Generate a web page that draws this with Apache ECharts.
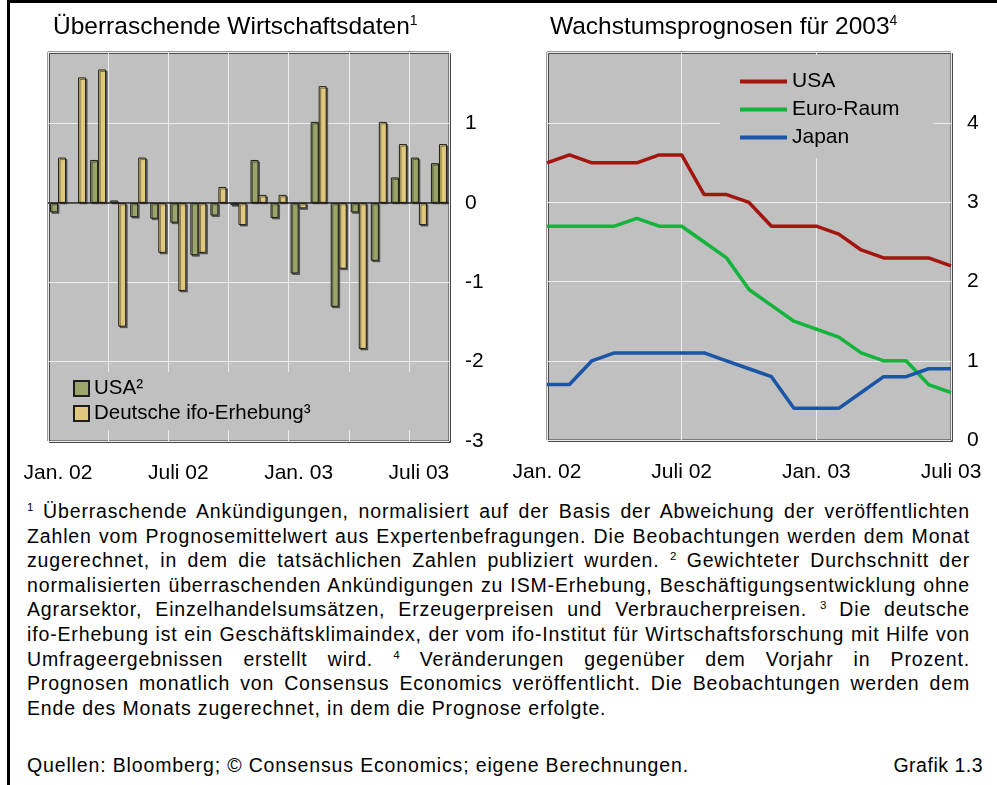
<!DOCTYPE html>
<html>
<head>
<meta charset="utf-8">
<script src="https://cdn.jsdelivr.net/npm/echarts@6/dist/echarts.min.js"></script>
<style>
  html, body { margin: 0; padding: 0; background: #fff; }
  #page { position: relative; width: 997px; height: 785px; overflow: hidden; font-family: 'Liberation Sans', Arial, sans-serif; color: #000; }
  #frame { position: absolute; left: 7px; top: 0; width: 990px; height: 785px; border-left: 3px solid #000; border-top: 3px solid #000; box-sizing: border-box; }
  #chart { position: absolute; left: 0; top: 0; width: 997px; height: 495px; }
  #notes { position: absolute; left: 27px; top: 499px; width: 943px; font-size: 19.5px; letter-spacing: 0.85px; line-height: 24.6px; }
  #notes div { text-align: justify; text-align-last: justify; white-space: nowrap; }
  #notes div.last { text-align: left; text-align-last: left; }
  .s { font-size: 11.5px; vertical-align: 7px; line-height: 0; letter-spacing: 0; }
  #source { position: absolute; left: 27px; top: 753px; width: 956px; font-size: 19.5px; letter-spacing: 0.85px; line-height: 24.6px; }
  #source span { position: absolute; right: 0; top: 0; letter-spacing: 0.5px; }
</style>
</head>
<body>
<div id="page">
  <div id="frame"></div>
  <div id="chart"></div>
  <div id="notes">
    <div><span class="s">1</span> Überraschende Ankündigungen, normalisiert auf der Basis der Abweichung der veröffentlichten</div>
    <div>Zahlen vom Prognosemittelwert aus Expertenbefragungen. Die Beobachtungen werden dem Monat</div>
    <div>zugerechnet, in dem die tatsächlichen Zahlen publiziert wurden. <span class="s">2</span> Gewichteter Durchschnitt der</div>
    <div>normalisierten überraschenden Ankündigungen zu ISM-Erhebung, Beschäftigungsentwicklung ohne</div>
    <div>Agrarsektor, Einzelhandelsumsätzen, Erzeugerpreisen und Verbraucherpreisen. <span class="s">3</span> Die deutsche</div>
    <div>ifo-Erhebung ist ein Geschäftsklimaindex, der vom ifo-Institut für Wirtschaftsforschung mit Hilfe von</div>
    <div>Umfrageergebnissen erstellt wird. <span class="s">4</span> Veränderungen gegenüber dem Vorjahr in Prozent.</div>
    <div>Prognosen monatlich von Consensus Economics veröffentlicht. Die Beobachtungen werden dem</div>
    <div class="last">Ende des Monats zugerechnet, in dem die Prognose erfolgte.</div>
  </div>
  <div id="source">Quellen: Bloomberg; © Consensus Economics; eigene Berechnungen.<span>Grafik 1.3</span></div>
</div>
<script>
// left panel: monthly surprise indicators, Jan 02 - Aug 03
const surpriseMonths = ['Jan. 02', 'Feb. 02', 'März 02', 'Apr. 02', 'Mai 02', 'Juni 02', 'Juli 02', 'Aug. 02', 'Sep. 02', 'Okt. 02', 'Nov. 02', 'Dez. 02',
  'Jan. 03', 'Feb. 03', 'März 03', 'Apr. 03', 'Mai 03', 'Juni 03', 'Juli 03', 'Aug. 03'];
const usaSurprise = [-0.12, null, 0.54, 0.03, -0.18, -0.2, -0.25, -0.66, -0.16, -0.03, 0.54, -0.19, -0.89, 1.02, -1.31, -0.12, -0.73, 0.32, 0.57, 0.5];
const ifoSurprise = [0.57, 1.58, 1.68, -1.56, 0.57, -0.63, -1.11, -0.63, 0.2, -0.28, 0.1, 0.1, -0.07, 1.47, -0.83, -1.84, 1.02, 0.74, -0.28, 0.74];

// right panel: growth forecasts for 2003, Jan 02 - Jul 03
const forecastMonths = ['Jan. 02', 'Feb. 02', 'März 02', 'Apr. 02', 'Mai 02', 'Juni 02', 'Juli 02', 'Aug. 02', 'Sep. 02', 'Okt. 02', 'Nov. 02', 'Dez. 02',
  'Jan. 03', 'Feb. 03', 'März 03', 'Apr. 03', 'Mai 03', 'Juni 03', 'Juli 03'];
const usaForecast = [3.5, 3.6, 3.5, 3.5, 3.5, 3.6, 3.6, 3.1, 3.1, 3.0, 2.7, 2.7, 2.7, 2.6, 2.4, 2.3, 2.3, 2.3, 2.2];
const euroForecast = [2.7, 2.7, 2.7, 2.7, 2.8, 2.7, 2.7, 2.5, 2.3, 1.9, 1.7, 1.5, 1.4, 1.3, 1.1, 1.0, 1.0, 0.7, 0.6];
const japanForecast = [0.7, 0.7, 1.0, 1.1, 1.1, 1.1, 1.1, 1.1, 1.0, 0.9, 0.8, 0.4, 0.4, 0.4, 0.6, 0.8, 0.8, 0.9, 0.9];

const FONT = 'Liberation Sans, Arial, sans-serif';
const PLOT_BG = '#c0c0c0';
const GRID_LINE = '#ececec';

const chart = echarts.init(document.getElementById('chart'), null, { renderer: 'canvas' });

const gridStyle = {
  show: true,
  backgroundColor: PLOT_BG,
  borderColor: '#3a3a3a',
  borderWidth: 1,
  shadowColor: 'rgba(0,0,0,0.6)',
  shadowOffsetX: 1.5,
  shadowOffsetY: 1.5,
  shadowBlur: 0
};

const barItem = (color) => ({
  color: color,
  borderColor: '#1e1e1e',
  borderWidth: 1,
  shadowColor: 'rgba(0,0,0,0.45)',
  shadowOffsetX: 1.5,
  shadowOffsetY: 1.5,
  shadowBlur: 0
});

const titleRich = {
  t: { fontSize: 24.5, fontWeight: 'normal', fontFamily: FONT, color: '#000', lineHeight: 26 },
  s: { fontSize: 14, fontWeight: 'normal', fontFamily: FONT, color: '#000', verticalAlign: 'top', lineHeight: 14 }
};

chart.setOption({
  animation: false,
  textStyle: { fontFamily: FONT },
  title: [
    { text: '{t|Überraschende Wirtschaftsdaten}{s|1}', left: 53, top: 14, padding: 0, textStyle: { fontWeight: 'normal', rich: titleRich } },
    { text: '{t|Wachstumsprognosen für 2003}{s|4}', left: 550, top: 14, padding: 0, textStyle: { fontWeight: 'normal', rich: titleRich } }
  ],
  legend: [
    {
      data: ['USA²', 'Deutsche ifo-Erhebung³'],
      orient: 'vertical',
      left: 50,
      top: 372,
      padding: [6, 127, 6, 23],
      backgroundColor: PLOT_BG,
      itemWidth: 15,
      itemHeight: 15,
      itemGap: 4,
      itemTextGap: 6,
      icon: 'rect',
      textStyle: { fontSize: 20.5, color: '#000', fontFamily: FONT }
    },
    {
      data: ['USA', 'Euro-Raum', 'Japan'],
      orient: 'vertical',
      left: 720,
      top: 55,
      padding: [16, 34, 10, 20],
      backgroundColor: PLOT_BG,
      itemWidth: 47,
      itemHeight: 4,
      itemGap: 7,
      itemTextGap: 8,
      icon: 'rect',
      textStyle: { fontSize: 21, color: '#000', fontFamily: FONT }
    }
  ],
  grid: [
    Object.assign({ left: 48, top: 52, width: 401, height: 389 }, gridStyle),
    Object.assign({ left: 547, top: 52, width: 404, height: 388 }, gridStyle)
  ],
  xAxis: [
    {
      type: 'category',
      gridIndex: 0,
      data: surpriseMonths,
      boundaryGap: true,
      axisLine: { show: false },
      axisTick: { show: false },
      axisLabel: { interval: 5, margin: 22, fontSize: 21, color: '#000' },
      splitLine: { show: true, interval: 2, lineStyle: { color: GRID_LINE, width: 1 } }
    },
    {
      type: 'category',
      gridIndex: 1,
      data: forecastMonths,
      boundaryGap: false,
      axisLine: { show: false },
      axisTick: { show: false },
      axisLabel: { interval: 5, margin: 22, fontSize: 21, color: '#000' },
      splitLine: { show: true, interval: 5, lineStyle: { color: GRID_LINE, width: 1 } }
    }
  ],
  yAxis: [
    {
      type: 'value',
      gridIndex: 0,
      position: 'right',
      min: -3,
      max: 1.9,
      interval: 1,
      axisLine: { show: false },
      axisTick: { show: false },
      axisLabel: { showMaxLabel: false, margin: 16, fontSize: 21, color: '#000', align: 'left' },
      splitLine: { lineStyle: { color: GRID_LINE, width: 1 } }
    },
    {
      type: 'value',
      gridIndex: 1,
      position: 'right',
      min: 0,
      max: 4.9,
      interval: 1,
      axisLine: { show: false },
      axisTick: { show: false },
      axisLabel: { showMaxLabel: false, margin: 16, fontSize: 21, color: '#000', align: 'left' },
      splitLine: { lineStyle: { color: GRID_LINE, width: 1 } }
    }
  ],
  series: [
    {
      name: 'USA²',
      type: 'bar',
      xAxisIndex: 0,
      yAxisIndex: 0,
      data: usaSurprise,
      barWidth: 8,
      barGap: '0%',
      itemStyle: barItem('#9ba56b'),
      markLine: {
        silent: true,
        symbol: ['none', 'none'],
        label: { show: false },
        lineStyle: { color: '#1e1e1e', width: 1.5, type: 'solid' },
        data: [{ yAxis: 0 }]
      }
    },
    {
      name: 'Deutsche ifo-Erhebung³',
      type: 'bar',
      xAxisIndex: 0,
      yAxisIndex: 0,
      data: ifoSurprise,
      barWidth: 8,
      barGap: '0%',
      itemStyle: barItem('#e0c97f')
    },
    {
      name: 'USA',
      type: 'line',
      xAxisIndex: 1,
      yAxisIndex: 1,
      data: usaForecast,
      symbol: 'none',
      lineStyle: { color: '#a5150f', width: 3.5 },
      itemStyle: { color: '#a5150f' }
    },
    {
      name: 'Euro-Raum',
      type: 'line',
      xAxisIndex: 1,
      yAxisIndex: 1,
      data: euroForecast,
      symbol: 'none',
      lineStyle: { color: '#12b43c', width: 3.5 },
      itemStyle: { color: '#12b43c' }
    },
    {
      name: 'Japan',
      type: 'line',
      xAxisIndex: 1,
      yAxisIndex: 1,
      data: japanForecast,
      symbol: 'none',
      lineStyle: { color: '#1a55a6', width: 3.5 },
      itemStyle: { color: '#1a55a6' }
    }
  ]
});
</script>
</body>
</html>
